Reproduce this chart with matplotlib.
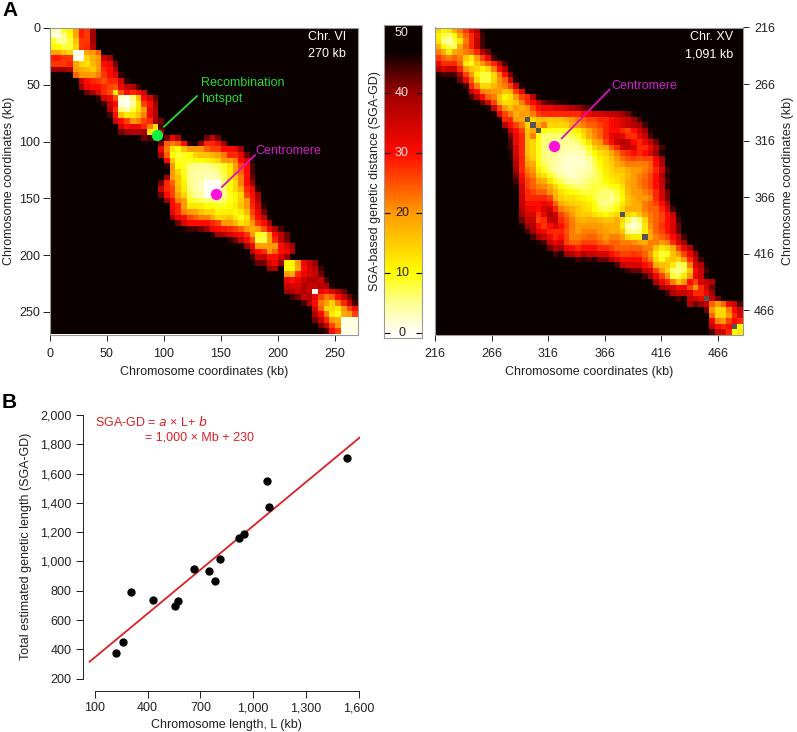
import numpy as np
import matplotlib
matplotlib.use('Agg')
import matplotlib.pyplot as plt
from matplotlib.colors import LinearSegmentedColormap, Normalize

plt.rcParams['font.family'] = ['Liberation Sans', 'DejaVu Sans']
plt.rcParams['font.size'] = 9

# upper triangle of each map, every row starts on the diagonal, None = missing cell
chr6_rows = [
    [3, 2, 9, 11, 19, 29, 27, 40],
    [1, 5, 10, 19, 29, 27, 40],
    [5, 8, 16, 27, 27, 40],
    [8, 14, 27, 28, 38],
    [0, 1, 19, 20, 24],
    [0, 14, 18, 20, 35, 40],
    [13, 17, 20, 30, 32, 42],
    [15, 20, 28, 30, 38],
    [22, 27, 30, 33, 45],
    [25, 28, 28, 34, 45],
    [26, 25, 32, 36, 38, 44],
    [12, 25, 30, 28, 30, 36],
    [2, 1, 6, 16, 30, 35, 42],
    [0, 4, 12, 26, 30, 40],
    [8, 13, 20, 32, 38],
    [16, 22, 32, 38],
    [26, 28, 40, 42],
    [22, 13, 44],
    [12, 40],
    [48, 42, 32, 38, 50, 50, 50, 50, 42, 36, 42],
    [24, 22, 24, 30, 45, 50, 40, 28, 28, 30, 40],
    [13, 10, 16, 20, 20, 20, 24, 26, 26, 30, 30, 32, 40],
    [8, 9, 10, 14, 16, 16, 17, 19, 22, 28, 28, 32, 42],
    [9, 9, 9, 10, 11, 12, 14, 20, 20, 22, 30, 34, 46],
    [6, 5, 5, 5, 6, 7, 9, 12, 20, 26, 30, 44],
    [4, 4, 4, 4, 5, 8, 12, 19, 24, 30, 44],
    [4, 3, 3, 4, 7, 12, 16, 22, 30, 42],
    [0, 0, 0, 6, 10, 14, 22, 30, 40],
    [0, 0, 6, 10, 14, 18, 28, 32, 45],
    [0, 5, 9, 11, 14, 26, 30, 40],
    [7, 9, 11, 15, 20, 29, 38],
    [10, 12, 16, 20, 28, 34, 45],
    [10, 12, 17, 26, 32, 42],
    [9, 13, 24, 30, 36, 46],
    [15, 20, 27, 30, 40],
    [18, 20, 25, 32, 38, 44],
    [9, 8, 20, 30, 36, 42],
    [8, 19, 28, 36, 42],
    [20, 20, 30, 34, 40],
    [24, 30, 32, 38],
    [35, 40],
    [11, 11, 20, 32, 36, 40],
    [10, 18, 30, 34, 38, 44],
    [28, 32, 34, 36, 42],
    [36, 38, 38, 36, 44],
    [36, 36, 38, 38, 46],
    [0, 32, 30, 34, 38, 42],
    [26, 22, 24, 30, 36, 42, 46],
    [20, 14, 22, 28, 36, 44],
    [14, 12, 20, 26, 30],
    [9, 18, 20, 26],
    [1, 1, 1],
    [1, 1],
    [1],
]

chr15_rows = [
    [14, 11, 12, 18, 22, 27, 33, 38, 46],
    [8, 6, 10, 18, 24, 28, 34, 44],
    [4, 7, 12, 22, 28, 36, 44],
    [7, 18, 24, 28, 36, 44],
    [20, 22, 24, 28, 38, 42],
    [16, 12, 20, 26, 32, 44],
    [9, 16, 20, 24, 28, 36, 44],
    [14, 11, 14, 22, 30, 38, 46],
    [8, 8, 14, 22, 30, 42],
    [8, 14, 21, 24, 34, 46],
    [17, 20, 22, 26, 36, 46],
    [20, 16, 17, 26, 33, 46],
    [11, 13, 20, 26, 28, 38, 46],
    [14, 16, 22, 28, 30, 36, 42, 44, 44, 46, 46, 48],
    [20, 18, 20, 26, 30, 32, 32, 34, 34, 36, 38, 40, 42, 44, 46],
    [20, 19, 22, 26, 28, 28, 28, 28, 28, 28, 28, 30, 32, 34, 34, 36, 36, 38, 40, 42, 46],
    [None, 14, 16, 16, 16, 16, 16, 18, 20, 22, 24, 26, 26, 28, 28, 30, 32, 34, 36, 40, 44],
    [None, 18, 22, 14, 14, 14, 15, 18, 20, 22, 24, 24, 26, 28, 30, 32, 34, 36, 38, 40, 44],
    [None, 10, 9, 9, 9, 9, 10, 12, 15, 19, 22, 24, 28, 30, 30, 28, 26, 30, 34, 40, 46],
    [6, 6, 6, 6, 6, 7, 9, 13, 18, 21, 24, 28, 32, 34, 33, 28, 27, 32, 36, 44],
    [6, 5, 5, 5, 5, 6, 9, 13, 18, 20, 26, 30, 36, 38, 36, 30, 28, 32, 36, 42],
    [6, 5, 4, 4, 4, 6, 9, 14, 17, 18, 24, 28, 35, 37, 34, 28, 28, 32, 38, 44],
    [4, 3, 3, 3, 4, 7, 10, 13, 15, 18, 22, 26, 28, 30, 28, 30, 34, 40, 46],
    [2, 2, 2, 3, 5, 8, 11, 13, 16, 20, 23, 25, 26, 25, 26, 26, 32, 40],
    [2, 2, 2, 4, 7, 10, 13, 15, 18, 20, 22, 22, 22, 22, 24, 30, 38],
    [3, 3, 4, 6, 9, 12, 14, 16, 16, 18, 20, 20, 22, 24, 28, 34, 44],
    [4, 5, 6, 8, 11, 13, 14, 15, 17, 20, 22, 23, 26, 30, 38, 46],
    [6, 7, 8, 10, 12, 13, 15, 18, 20, 22, 24, 26, 30, 36, 44],
    [8, 8, 8, 10, 10, 13, 18, 20, 22, 24, 26, 30, 36, 46],
    [7, 6, 6, 8, 11, 17, 20, 20, 22, 24, 28, 34, 42],
    [6, 5, 7, 10, 16, 18, 20, 20, 22, 28, 34, 42],
    [6, 8, 12, 16, 18, 18, 22, 24, 26, 30, 38, 48],
    [10, 14, 18, 18, 18, 22, 24, 24, 28, 34, 44],
    [None, 14, 12, 16, 20, 22, 24, 26, 30, 36, 46],
    [8, 3, 6, 14, 22, 24, 26, 30, 34, 44],
    [2, 4, 12, 21, 24, 27, 30, 34, 42],
    [6, 12, 19, 24, 26, 30, 34, 42],
    [None, 18, 22, 24, 26, 30, 36, 44],
    [22, 22, 20, 22, 28, 34, 40, 48],
    [16, 12, 14, 18, 26, 32, 38, 46],
    [8, 9, 16, 20, 26, 32, 40],
    [14, 16, 14, 20, 28, 36, 44],
    [12, 6, 8, 22, 34, 38, 46],
    [5, 7, 16, 30, 36, 44],
    [12, 20, 32, 36, 46],
    [30, 26, 34, 36, 38],
    [20, 28, 34, 42],
    [28, 32, 40],
    [None, 36, 42],
    [24, 20, 24, 32, 36, 44],
    [14, 14, 22, 30, 36],
    [14, 20, 28, 34],
    [26, 30, 28],
    [None, 10],
    [12],
]

chr6_ticks = [0, 50, 100, 150, 200, 250]
chr15_ticks = [216, 266, 316, 366, 416, 466]
cbar_ticks = [0, 10, 20, 30, 40, 50]

chrom_len = [221, 261, 308, 433, 558, 573, 662, 750, 782, 814, 922, 948, 1081, 1089, 1536]
genetic_len = [378, 450, 794, 739, 698, 730, 949, 937, 869, 1015, 1158, 1188, 1547, 1372, 1704]
fit_x = [70, 1608]
fit_y = [316, 1848]
len_ticks = [100, 400, 700, 1000, 1300, 1600]
gen_ticks = [200, 400, 600, 800, 1000, 1200, 1400, 1600, 1800, 2000]

W, H = 797, 732
GRAY = '#9a9a9a'
TEXT = '#222222'


def build_matrix(rows):
    n = len(rows)
    m = np.full((n, n), 50.0)
    for i, row in enumerate(rows):
        for k, v in enumerate(row):
            val = np.nan if v is None else v
            m[i, i + k] = val
            m[i + k, i] = val
    return m


def px_axes(fig, left, top, right, bottom):
    return fig.add_axes([left / W, 1 - bottom / H, (right - left) / W, (bottom - top) / H])


def style_map(ax):
    for side in ax.spines:
        ax.spines[side].set_color(GRAY)
        ax.spines[side].set_linewidth(0.8)
    ax.tick_params(width=0.7, color=TEXT, labelsize=9, labelcolor=TEXT)
    ax.tick_params(axis='x', length=4.5, pad=5)


cmap = LinearSegmentedColormap.from_list('sga', [
    (0.0, '#fffff8'), (0.1, '#ffff90'), (0.2, '#ffff00'), (0.4, '#ff9a00'),
    (0.6, '#ff0a00'), (0.8, '#a00000'), (0.94, '#0a0000'), (1.0, '#0a0000')])
cmap.set_bad('#555555')
norm = Normalize(0, 50)

fig = plt.figure(figsize=(W / 100, H / 100), dpi=100)

# Chr. VI
ax1 = px_axes(fig, 50, 28, 357.5, 334.5)
ax1.imshow(build_matrix(chr6_rows), cmap=cmap, norm=norm, extent=[0, 270, 270, 0],
           interpolation='nearest', aspect='auto')
style_map(ax1)
ax1.tick_params(axis='y', length=5, pad=2)
ax1.set_xticks(chr6_ticks)
ax1.set_yticks(chr6_ticks)
ax1.set_xlabel('Chromosome coordinates (kb)', color=TEXT, labelpad=4.5)
ax1.set_ylabel('Chromosome coordinates (kb)', color=TEXT, labelpad=3)
ax1.text(260, 8, 'Chr. VI', color='white', ha='right', va='center', fontsize=9)
ax1.text(260, 23, '270 kb', color='white', ha='right', va='center', fontsize=9)
ax1.plot([100, 129], [87, 60], color='#22dd33', lw=1.3)
ax1.plot(94, 94, 'o', color='#11ee44', ms=8.2, mew=0)
ax1.text(133, 48.5, 'Recombination', color='#22dd33', va='center', fontsize=9)
ax1.text(133, 62.5, 'hotspot', color='#22dd33', va='center', fontsize=9)
ax1.plot([151, 180], [140, 112], color='#dd11bb', lw=1.3)
ax1.plot(146, 146, 'o', color='#ff11dd', ms=8.2, mew=0)
ax1.text(180, 108.5, 'Centromere', color='#cc22cc', va='center', fontsize=9)

# colour key
ax_c = px_axes(fig, 384, 24.5, 422, 338)
ramp = np.linspace(51.5, -0.8, 400).reshape(-1, 1)
ax_c.imshow(ramp, cmap=cmap, norm=norm, extent=[0, 1, -0.8, 51.5], aspect='auto')
for side in ax_c.spines:
    ax_c.spines[side].set_color(GRAY)
ax_c.set_xticks([])
ax_c.set_yticks(cbar_ticks)
ax_c.set_yticklabels([])
ax_c.tick_params(axis='y', direction='in', left=True, right=True, length=4.5, width=0.8)
for t, tick in zip(cbar_ticks, ax_c.yaxis.get_major_ticks()):
    col = 'white' if t >= 30 else TEXT
    tick.tick1line.set_color(col)
    tick.tick2line.set_color(col)
    label_col = '#f5e4e0' if t >= 30 else TEXT
    ax_c.text(0.47, t, str(t), color=label_col, ha='center', va='center', fontsize=9)
ax_c.set_ylabel('SGA-based genetic distance (SGA-GD)', color=TEXT, labelpad=-1.3)

# Chr. XV
ax2 = px_axes(fig, 435, 27.5, 743, 335)
ax2.imshow(build_matrix(chr15_rows), cmap=cmap, norm=norm, extent=[216, 488, 488, 216],
           interpolation='nearest', aspect='auto')
style_map(ax2)
ax2.set_xticks(chr15_ticks)
ax2.set_yticks(chr15_ticks)
ax2.yaxis.tick_right()
ax2.yaxis.set_label_position('right')
ax2.tick_params(axis='y', length=4, pad=4)
ax2.set_xlabel('Chromosome coordinates (kb)', color=TEXT, labelpad=4.5)
ax2.set_ylabel('Chromosome coordinates (kb)', color=TEXT, labelpad=5)
ax2.text(479, 224, 'Chr. XV', color='white', ha='right', va='center', fontsize=9)
ax2.text(479, 240, '1,091 kb', color='white', ha='right', va='center', fontsize=9)
ax2.plot([328, 370], [314, 271], color='#dd11bb', lw=1.3)
ax2.plot(321.5, 321, 'o', color='#ff11dd', ms=8.2, mew=0)
ax2.text(372, 267.5, 'Centromere', color='#cc22cc', va='center', fontsize=9)

# panel B
ax3 = px_axes(fig, 82.5, 415, 360, 691)
ax3.plot(fit_x, fit_y, color='#dd1f26', lw=1.3, zorder=2)
ax3.scatter(chrom_len, genetic_len, s=36, color='black', zorder=3, linewidths=0)
ax3.set_xlim(29.5, 1608)
ax3.set_ylim(116, 2000)
ax3.spines['top'].set_visible(False)
ax3.spines['right'].set_visible(False)
ax3.spines['left'].set_bounds(200, 2000)
ax3.spines['bottom'].set_bounds(100, 1600)
ax3.patch.set_visible(False)
ax3.set_xticks(len_ticks)
ax3.set_xticklabels([f'{t:,}' for t in len_ticks])
ax3.set_yticks(gen_ticks)
ax3.set_yticklabels([f'{t:,}' for t in gen_ticks])
ax3.tick_params(length=5, width=0.7, color=TEXT, labelsize=9, labelcolor=TEXT, pad=3)
for side in ['left', 'bottom']:
    ax3.spines[side].set_linewidth(0.7)
    ax3.spines[side].set_color(TEXT)
ax3.set_xlabel('Chromosome length, L (kb)', color=TEXT, labelpad=3.5, x=0.52)
ax3.set_ylabel('Total estimated genetic length (SGA-GD)', color=TEXT, labelpad=6, y=0.525)
ax3.text(95 / W, 1 - 422 / H, r'SGA-GD = $\mathit{a}$ × L+ $\mathit{b}$', color='#dd1f26',
         transform=fig.transFigure, va='center', fontsize=9, math_fontfamily='custom')
ax3.text(145 / W, 1 - 437 / H, '= 1,000 × Mb + 230', color='#dd1f26',
         transform=fig.transFigure, va='center', fontsize=9)

fig.text(2 / W, 1 - 10 / H, 'A', fontsize=15, fontweight='bold', va='center')
fig.text(2 / W, 1 - 403 / H, 'B', fontsize=15, fontweight='bold', va='center')

fig.savefig('out.png', dpi=100)
